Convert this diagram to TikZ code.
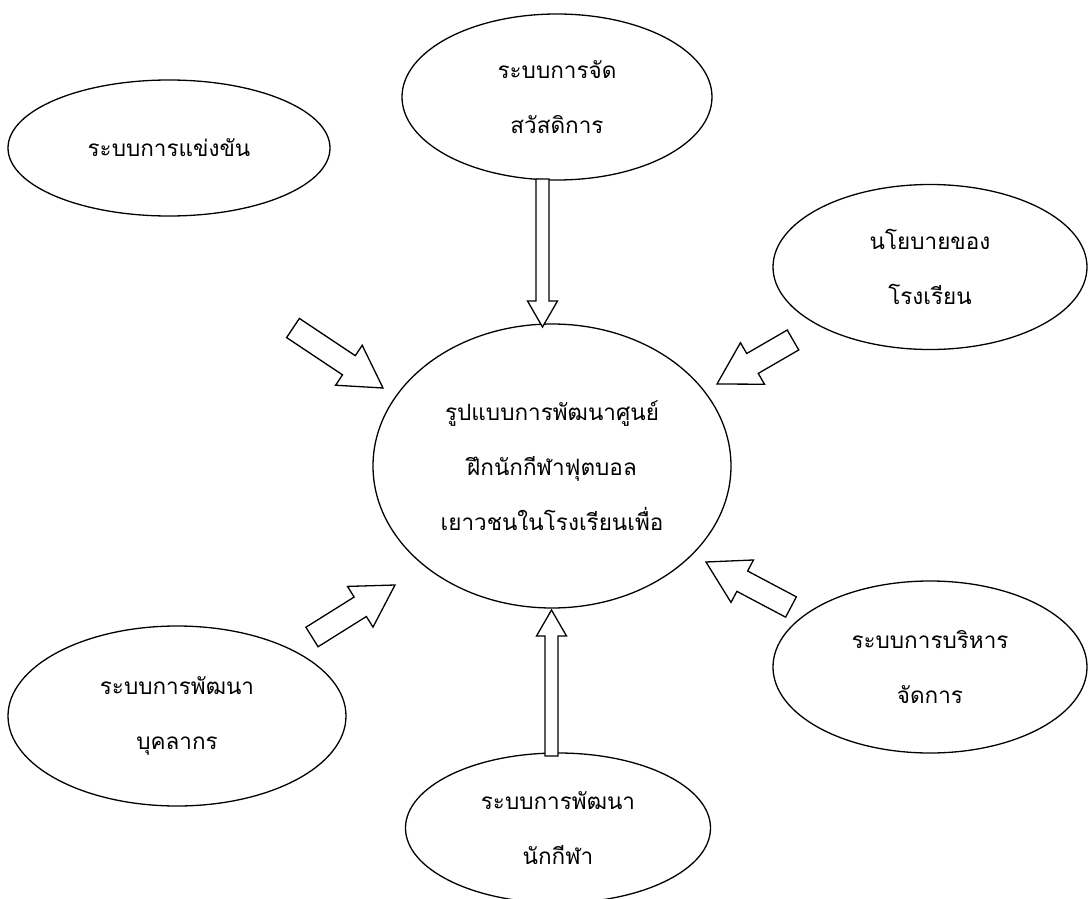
\documentclass[tikz,border=0pt]{standalone}
\usepackage{fontspec}
\newfontfamily\thaifont[Script=Thai]{Loma}
\usetikzlibrary{shapes.geometric,calc}
\newcommand{\blkarrow}[5]{%
  \coordinate (#1-hb) at ($(#2)!#5!(#1)$);
  \draw[blockarrow]
    ($(#1)!#3!90:(#2)$) --
    ($(#1-hb)!#3!-90:(#1)$) --
    ($(#1-hb)!#4!-90:(#1)$) --
    (#2) --
    ($(#1-hb)!#4!90:(#1)$) --
    ($(#1-hb)!#3!90:(#1)$) --
    ($(#1)!#3!-90:(#2)$) -- cycle;}
\begin{document}
\begin{tikzpicture}[x=1pt,y=-1pt,
  bubble/.style={ellipse, draw, line width=1.3pt, inner sep=0pt, align=center,
    font=\thaifont\fontsize{22.5}{55}\selectfont},
  blockarrow/.style={draw, fill=white, line width=1.3pt, line join=miter}]
\useasboundingbox (0,0) rectangle (1088,899);

\node[bubble, minimum width=310pt, minimum height=166pt] (welfare) at (557,97) {ระบบการจัด\\สวัสดิการ};
\node[bubble, minimum width=322pt, minimum height=136pt] (compete) at (169,148) {ระบบการแข่งขัน};
\node[bubble, minimum width=314pt, minimum height=165pt] (policy) at (930,267) {นโยบายของ\\โรงเรียน};
\node[bubble, minimum width=358pt, minimum height=284pt] (model) at (552,466) {รูปแบบการพัฒนาศูนย์\\ฝึกนักกีฬาฟุตบอล\\เยาวชนในโรงเรียนเพื่อ};
\node[bubble, minimum width=314pt, minimum height=172pt] (manage) at (930,667) {ระบบการบริหาร\\จัดการ};
\node[bubble, minimum width=338pt, minimum height=180pt] (staff) at (177,716) {ระบบการพัฒนา\\บุคลากร};
\node[bubble, minimum width=305pt, minimum height=150pt] (athlete) at (558,828) {ระบบการพัฒนา\\นักกีฬา};

\coordinate (top-tail) at (542.5,179);
\coordinate (top-tip) at (542.5,327);
\coordinate (bot-tail) at (551.5,756);
\coordinate (bot-tip) at (551.5,610);
\coordinate (tl-tail) at (293,328);
\coordinate (tl-tip) at (383,388);
\coordinate (rt-tail) at (793,340);
\coordinate (rt-tip) at (717,384);
\coordinate (lb-tail) at (312,637);
\coordinate (lb-tip) at (395,585);
\coordinate (rb-tail) at (791,607);
\coordinate (rb-tip) at (706,562);

\blkarrow{top-tail}{top-tip}{6.5pt}{15pt}{26pt}
\blkarrow{bot-tail}{bot-tip}{6.5pt}{15pt}{26pt}
\blkarrow{tl-tail}{tl-tip}{11.5pt}{24pt}{41pt}
\blkarrow{rt-tail}{rt-tip}{11.5pt}{24pt}{41pt}
\blkarrow{lb-tail}{lb-tip}{11.5pt}{24pt}{41pt}
\blkarrow{rb-tail}{rb-tip}{11.5pt}{24pt}{41pt}
\end{tikzpicture}
\end{document}
